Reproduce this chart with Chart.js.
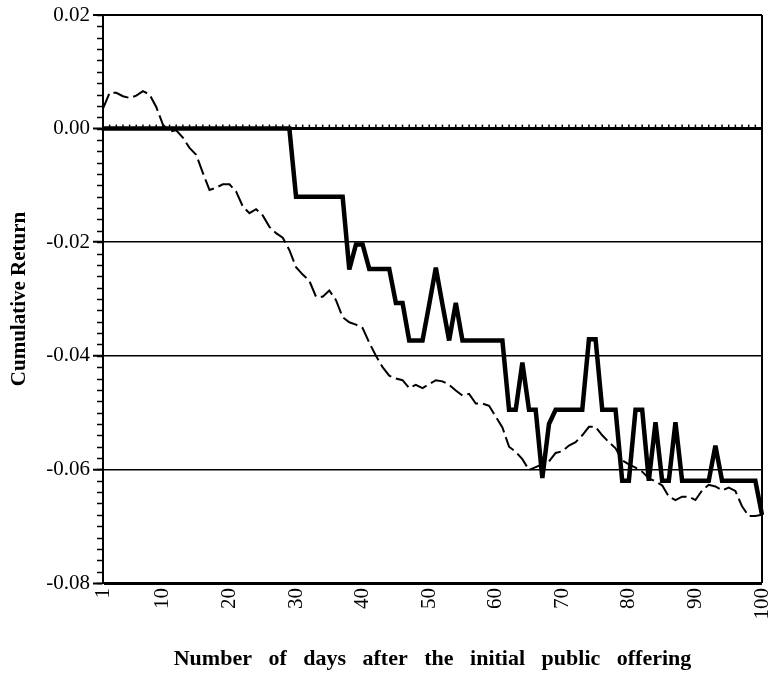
<!DOCTYPE html>
<html>
<head>
<meta charset="utf-8">
<script src="https://cdn.jsdelivr.net/npm/chart.js@4.4.1/dist/chart.umd.min.js"></script>
<style>
  body { margin: 0; background: #fff; }
  canvas { display: block; }
</style>
</head>
<body>
<canvas id="chart" width="772" height="678"></canvas>
<script>
var days = [];
for (var d = 1; d <= 100; d++) days.push(d);

var shownDays = [1, 10, 20, 30, 40, 50, 60, 70, 80, 90, 100];
var yTicks = [0.02, 0.00, -0.02, -0.04, -0.06, -0.08];

var solidReturn = [
  0, 0, 0, 0, 0, 0, 0, 0, 0, 0,
  0, 0, 0, 0, 0, 0, 0, 0, 0, 0,
  0, 0, 0, 0, 0, 0, 0, 0, 0, -0.012,
  -0.012, -0.012, -0.012, -0.012, -0.012, -0.012, -0.012, -0.0248, -0.0204, -0.0204,
  -0.0247, -0.0247, -0.0247, -0.0247, -0.0307, -0.0307, -0.0373, -0.0373, -0.0373, -0.031,
  -0.0245, -0.031, -0.0373, -0.0307, -0.0373, -0.0373, -0.0373, -0.0373, -0.0373, -0.0373,
  -0.0373, -0.0495, -0.0495, -0.0412, -0.0495, -0.0495, -0.0615, -0.052, -0.0495, -0.0495,
  -0.0495, -0.0495, -0.0495, -0.0371, -0.0371, -0.0495, -0.0495, -0.0495, -0.0620, -0.0620,
  -0.0495, -0.0495, -0.0620, -0.0517, -0.0620, -0.0620, -0.0517, -0.0620, -0.0620, -0.0620,
  -0.0620, -0.0620, -0.0558, -0.0620, -0.0620, -0.0620, -0.0620, -0.0620, -0.0620, -0.068
];

var dashedReturn = [
  0.0035, 0.0063, 0.0063, 0.0057, 0.0054, 0.0058, 0.0066, 0.0060, 0.0038, 0.0007,
  -0.0005, -0.0003, -0.0016, -0.0034, -0.0046, -0.0078, -0.0108, -0.0104, -0.0098, -0.0098,
  -0.0111, -0.0137, -0.0149, -0.0142, -0.0153, -0.0173, -0.0184, -0.0192, -0.0214, -0.0244,
  -0.0257, -0.0268, -0.0296, -0.0296, -0.0285, -0.0302, -0.0332, -0.0341, -0.0345, -0.0351,
  -0.0377, -0.0400, -0.0420, -0.0435, -0.0440, -0.0443, -0.0457, -0.0451, -0.0457, -0.0450,
  -0.0443, -0.0445, -0.0451, -0.0461, -0.0470, -0.0467, -0.0484, -0.0484, -0.0488, -0.0507,
  -0.0526, -0.0560, -0.0569, -0.0582, -0.0601, -0.0596, -0.0591, -0.0586, -0.0571, -0.0568,
  -0.0558, -0.0552, -0.0540, -0.0525, -0.0525, -0.0540, -0.0552, -0.0563, -0.0584, -0.0591,
  -0.0597, -0.0604, -0.0616, -0.0621, -0.0628, -0.0648, -0.0654, -0.0648, -0.0648, -0.0654,
  -0.0637, -0.0627, -0.0630, -0.0637, -0.0632, -0.0638, -0.0665, -0.0682, -0.0682, -0.0680
];

var serif = "'Liberation Serif', 'DejaVu Serif', serif";

function near(a, b) {
  return Math.abs(a - b) < 1e-9;
}

// keep sharp spikes from overshooting too far
var joinPlugin = {
  id: 'join',
  beforeDatasetsDraw: function (chart) {
    chart.ctx.miterLimit = 3;
  }
};

// minor ticks on the y axis, day ticks on the zero line, right frame
var framePlugin = {
  id: 'frame',
  afterDraw: function (chart) {
    var ctx = chart.ctx;
    var area = chart.chartArea;
    var x = chart.scales.x;
    var y = chart.scales.y;
    ctx.save();
    ctx.strokeStyle = '#000';

    ctx.lineWidth = 1.5;
    for (var i = 0; i <= 50; i++) {
      var v = -0.08 + i * 0.002;
      var py = Math.round(y.getPixelForValue(v)) + 0.5;
      ctx.beginPath();
      ctx.moveTo(area.left - 6, py);
      ctx.lineTo(area.left, py);
      ctx.stroke();
    }

    var zy = y.getPixelForValue(0);
    ctx.lineWidth = 1.5;
    days.forEach(function (day, idx) {
      var px = x.getPixelForValue(idx);
      ctx.beginPath();
      ctx.moveTo(px, zy);
      ctx.lineTo(px, zy - 4);
      ctx.stroke();
    });

    ctx.lineWidth = 2;
    ctx.beginPath();
    ctx.moveTo(area.right, area.top);
    ctx.lineTo(area.right, area.bottom);
    ctx.stroke();
    ctx.restore();
  }
};

var chart = new Chart(document.getElementById('chart'), {
  type: 'line',
  data: {
    labels: days,
    datasets: [{
      label: 'solid',
      data: solidReturn,
      borderColor: '#000',
      borderWidth: 4.5,
      borderJoinStyle: 'miter',
      pointRadius: 0,
      tension: 0
    }, {
      label: 'dashed',
      data: dashedReturn,
      borderColor: '#000',
      borderWidth: 2,
      borderDash: [16, 5],
      pointRadius: 0,
      tension: 0
    }]
  },
  options: {
    responsive: false,
    animation: false,
    devicePixelRatio: 1,
    layout: { padding: { left: 0, right: 10, top: 15, bottom: 0 } },
    plugins: {
      legend: { display: false },
      tooltip: { enabled: false }
    },
    scales: {
      x: {
        type: 'category',
        offset: false,
        grid: { display: false, drawTicks: false },
        border: { display: false },
        ticks: {
          autoSkip: false,
          minRotation: 90,
          maxRotation: 90,
          padding: 5,
          color: '#000',
          font: { family: serif, size: 21 },
          callback: function (value, index) {
            var day = days[index];
            return shownDays.indexOf(day) >= 0 ? String(day) : '';
          }
        },
        title: {
          display: true,
          text: 'Number   of   days   after   the   initial   public   offering',
          color: '#000',
          font: { family: serif, size: 22, weight: 'bold' },
          padding: { top: 0, bottom: 5 }
        },
        afterFit: function (scale) {
          scale.height = 95;
          scale.paddingLeft = 0;
          scale.paddingRight = 0;
        }
      },
      y: {
        min: -0.08,
        max: 0.02,
        afterBuildTicks: function (scale) {
          scale.ticks = yTicks.map(function (v) { return { value: v }; });
        },
        ticks: {
          color: '#000',
          padding: 3,
          font: { family: serif, size: 21 },
          callback: function (value) {
            if (near(value, 0)) return '0.00';
            return value.toFixed(2);
          }
        },
        grid: {
          color: '#000',
          tickColor: '#000',
          tickLength: 10,
          tickWidth: 2,
          lineWidth: function (c) {
            var v = c.tick ? c.tick.value : 0;
            if (near(v, 0) || near(v, -0.08)) return 3;
            if (near(v, 0.02)) return 2;
            return 1.5;
          }
        },
        border: { display: true, color: '#000', width: 2 },
        title: {
          display: true,
          text: 'Cumulative Return',
          color: '#000',
          font: { family: serif, size: 21, weight: 'bold' },
          padding: { top: 7, bottom: 0 }
        },
        afterFit: function (scale) {
          scale.width = 103;
          scale.paddingTop = 0;
          scale.paddingBottom = 0;
        }
      }
    }
  },
  plugins: [joinPlugin, framePlugin]
});
</script>
</body>
</html>
